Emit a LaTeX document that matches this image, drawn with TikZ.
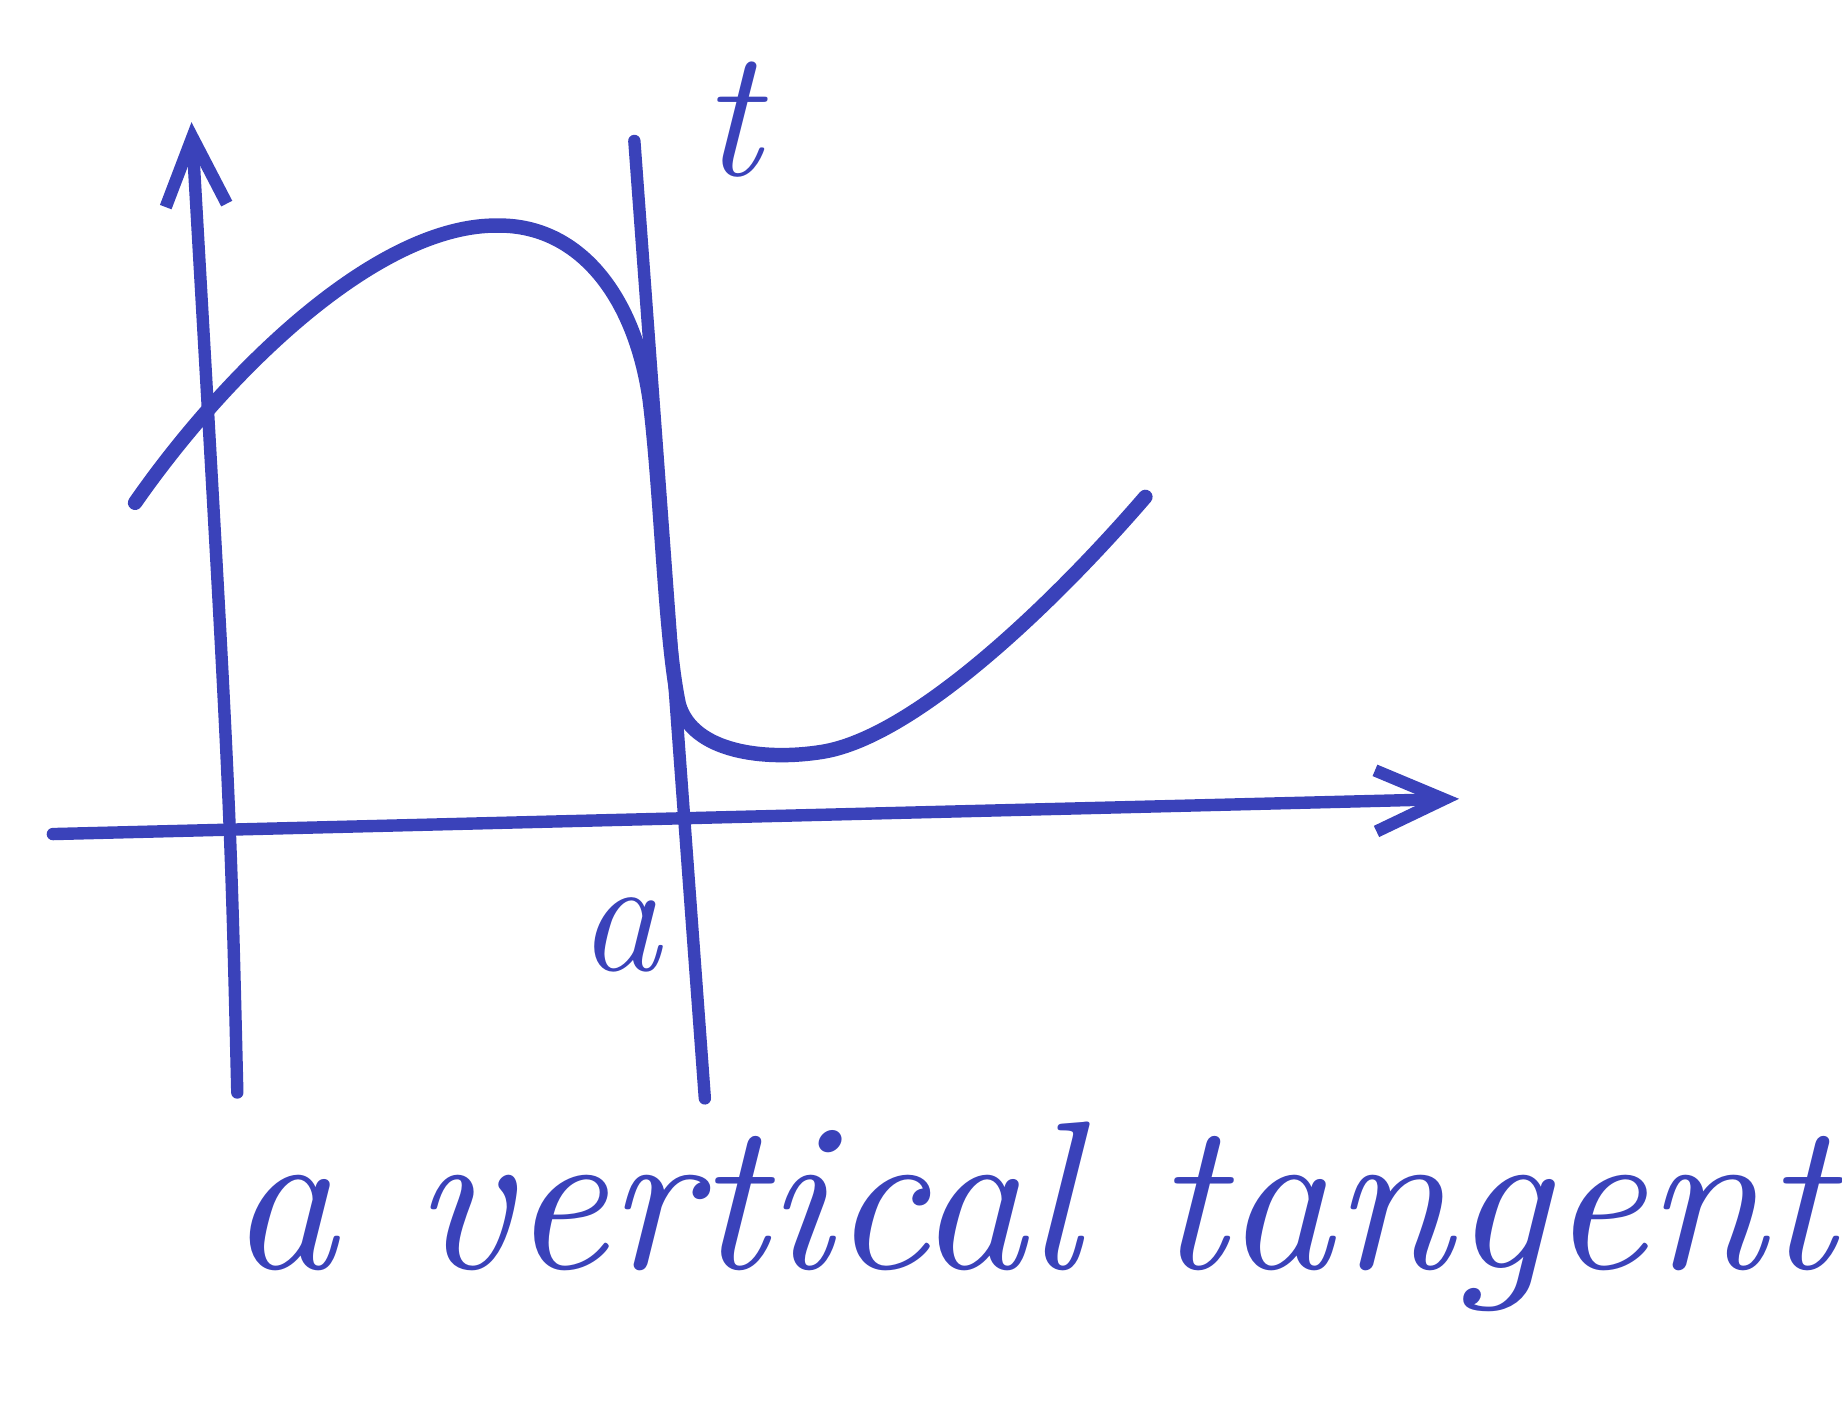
\documentclass[tikz,border=0pt]{standalone}
\usetikzlibrary{arrows.meta}
\definecolor{ink}{RGB}{58,66,186}
\begin{document}
\begin{tikzpicture}[x=0.01cm,y=-0.01cm,
  pen/.style={draw=ink,line width=3pt,line cap=round,line join=round},
  curvepen/.style={draw=ink,line width=3.5pt,line cap=round,line join=round},
  barb/.style={-{Straight Barb[length=0.58cm,width=0.52cm,line width=3pt]}},
  lbl/.style={text=ink,font=\fontsize{40}{48}\selectfont\itshape,inner sep=0pt}]
\useasboundingbox (0,0) rectangle (1568,1203);
% axes
\coordinate (ybot) at (202,930);
\coordinate (ytop) at (163,104);
\coordinate (xleft) at (45,710);
\coordinate (xright) at (1242,680);
\coordinate (ttop) at (540,120);
\coordinate (tbot) at (600,935);
\draw[pen,barb] (ybot) .. controls (196,680) .. (ytop);
\draw[pen,barb] (xleft) -- (xright);
% tangent line
\draw[pen] (ttop) -- (tbot);
% curve
\draw[curvepen] (115,428) .. controls (190,320) and (320,190) .. (425,192)
  .. controls (492,192) and (540,250) .. (553,340)
  .. controls (563,420) and (566,545) .. (578,600)
  .. controls (590,640) and (650,648) .. (700,640)
  .. controls (780,627) and (900,510) .. (975,423);
% labels
\node[lbl,font=\fontsize{44}{50}\selectfont\itshape] (tlab) at (622,102) {t};
\node[lbl] (alab) at (528,796) {a};
\node[text=ink,inner sep=0pt,anchor=base west] (caption) at (195,1080)
  {\resizebox{13.65cm}{!}{\itshape a vertical tangent}};
\end{tikzpicture}
\end{document}
